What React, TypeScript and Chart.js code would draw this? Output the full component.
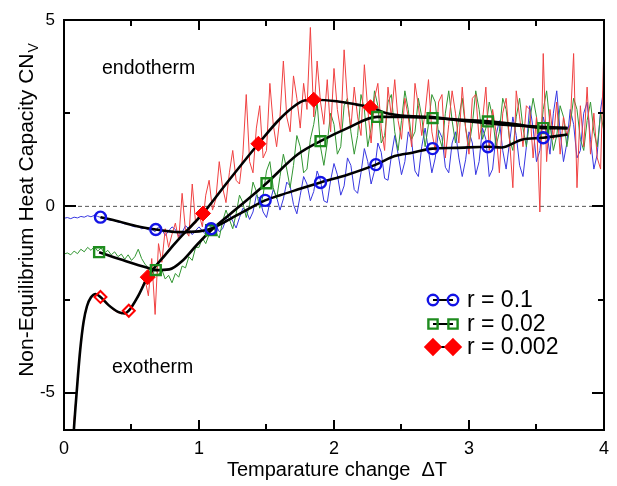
import React, { useEffect, useRef } from "react";
import { Chart, registerables } from "chart.js";

Chart.register(...registerables);

const FONT = '"Liberation Sans", Arial, Helvetica, sans-serif';

// axis ticks
const xTickValues = [0, 1, 2, 3, 4];
const yTickValues = [-5, 0, 5];
const xMinorTicks = [0.5, 1.5, 2.5, 3.5];
const yMinorTicks = [-2.5, 2.5];

// noisy raw traces, sampled every 0.025 in ΔT
const NOISE_STEP = 0.025;
const blueNoiseStart = 0;
const blueNoise = [
  -0.32, -0.30, -0.33, -0.29, -0.31, -0.27, -0.29, -0.25,
  -0.28, -0.24, -0.27, -0.30, -0.33, -0.35, -0.38, -0.37,
  -0.42, -0.44, -0.47, -0.46, -0.52, -0.55, -0.53, -0.60,
  -0.58, -0.63, -0.62, -0.68, -0.55, -0.62, -0.78, -0.66,
  -0.55, -0.62, -0.80, -0.70, -0.52, -0.60, -0.76, -0.65,
  -0.55, -0.66, -0.75, -0.62, -0.45, -0.50, -0.68, -0.60,
  -0.35, -0.22, -0.40, -0.58, -0.30, -0.05, -0.12, -0.35,
  -0.15, 0.30, 0.20, -0.15, -0.30, 0.10, 0.45, 0.25,
  -0.10, 0.20, 0.65, 0.55, 0.05, -0.20, 0.30, 0.80,
  0.60, 0.15, 0.40, 0.95, 0.70, 0.15, 0.10, 0.70,
  1.15, 0.85, 0.30, 0.55, 1.30, 1.10, 0.45, 0.35,
  0.90, 1.55, 1.20, 0.60, 0.95, 1.70, 1.45, 0.75,
  0.70, 1.35, 1.90, 1.40, 0.85, 1.20, 2.00, 1.75,
  0.95, 0.80, 1.60, 2.10, 1.50, 0.90, 1.30, 2.05,
  1.85, 1.05, 0.90, 1.70, 2.00, 1.30, 0.80, 1.25,
  2.00, 1.70, 0.85, 1.20, 2.10, 1.80, 0.80, 1.00,
  1.90, 2.30, 1.50, 1.00, 1.70, 2.40, 1.90, 1.10,
  0.80, 1.60, 2.70, 2.10, 1.20, 1.50, 2.40, 2.00,
  1.40, 2.50, 3.10, 2.00, 1.20, 1.70, 2.60, 2.20,
  1.30, 1.50, 2.50, 2.80, 1.80, 1.00, 1.40, 2.60,
  3.20,
];

const greenNoiseStart = 0;
const greenNoise = [
  -1.28, -1.25, -1.30, -1.20, -1.27, -1.15, -1.22, -1.10,
  -1.18, -1.08, -1.20, -1.12, -1.25, -1.18, -1.30, -1.22,
  -1.35, -1.28, -1.42, -1.30, -1.45, -1.35, -1.15, -1.40,
  -1.55, -1.65, -2.00, -1.60, -1.85, -1.70, -1.95, -1.85,
  -2.05, -1.80, -1.90, -1.60, -1.65, -1.35, -1.45, -1.10,
  -1.10, -0.85, -1.00, -0.75, -0.50, -0.70, -0.85, -0.40,
  -0.10, -0.35, -0.60, -0.20, 0.30, 0.10, -0.30, 0.05,
  0.65, 0.40, -0.05, 0.30, 0.95, 1.20, 0.50, 0.20,
  0.80, 1.40, 1.00, 0.50, 1.10, 1.90, 1.60, 0.90,
  1.00, 1.80, 2.20, 2.80, 1.60, 1.10, 1.70, 2.50,
  2.20, 1.40, 1.60, 2.70, 2.90, 2.00, 1.40, 1.90,
  3.00, 2.60, 1.60, 2.10, 3.10, 2.70, 1.70, 1.90,
  2.80, 3.00, 2.00, 1.50, 2.30, 3.10, 2.60, 1.80,
  2.00, 2.90, 2.40, 1.60, 2.20, 3.00, 2.80, 1.90,
  1.60, 2.50, 3.10, 2.30, 1.70, 2.40, 2.90, 2.10,
  1.60, 2.20, 3.10, 2.60, 1.80, 2.10, 2.80, 2.40,
  1.60, 2.00, 2.90, 2.60, 1.80, 1.50, 2.40, 2.90,
  2.10, 1.60, 2.30, 2.90, 2.40, 1.70, 2.60, 3.10,
  2.20, 1.50, 1.90, 2.70, 2.40, 1.60, 2.20, 2.90,
  2.60, 1.80, 1.50, 2.30, 2.80, 2.00, 1.60, 2.50,
  2.00,
];

const redNoiseStart = 0.05;
const redNoise = [
  -8.0, -5.7, -4.7, -3.65, -3.0, -2.62, -2.44, -2.36,
  -2.38, -2.45, -2.55, -2.64, -2.73, -2.80, -2.85, -2.88,
  -2.86, -2.80, -2.70, -2.55, -2.40, -2.20, -1.95, -2.40,
  -1.40, -2.90, -1.00, -1.50, -0.60, -1.10, -0.75, -0.45,
  -0.90, 0.35, -0.65, -0.80, 0.60, -0.45, -0.20, -0.55,
  0.30, 0.70, -0.10, 0.20, 1.20, 0.50, 0.10, 0.90,
  1.50, 0.70, 0.60, 1.40, 3.00, 1.20, 0.90, 2.10,
  2.70, 1.30, 1.50, 3.30, 2.20, 1.60, 2.40, 3.90,
  2.40, 2.00, 3.50, 2.90, 2.10, 3.30, 2.60, 4.80,
  2.40, 3.90, 2.80, 2.20, 3.40, 2.00, 3.70, 2.60,
  2.00, 4.20, 2.80, 2.10, 3.20, 2.40, 1.90, 3.80,
  2.60, 1.70, 2.90, 3.30, 2.10, 1.50, 3.20, 2.40,
  3.40, 2.30, 1.80, 2.90, 2.40, 1.60, 3.30, 2.70,
  1.90, 2.50, 3.40, 2.00, 1.50, 2.80, 3.00, 1.30,
  2.20, 3.10, 2.50, 1.70, 3.20, 2.10, 1.40, 2.90,
  3.00, 1.80, 2.30, 3.20, 1.50, 2.60, 2.00, 0.90,
  2.50, 2.90, 1.80, 0.50, 3.10, 2.40, 1.60, 2.70,
  2.60, 1.30, 2.40, -0.15, 4.10, 1.20, 2.60, 1.80,
  2.80, 1.40, 2.40, 1.90, 2.20, 4.10, 0.50, 2.70,
  1.60, 3.20, 1.40, 2.50, 1.30, 1.00, 4.40,
];

// smoothed (black) curves
const blueCurve = [
  [0.27, -0.29], [0.4, -0.4], [0.55, -0.54], [0.68, -0.62], [0.85, -0.69],
  [1.0, -0.67], [1.09, -0.6], [1.2, -0.4], [1.35, -0.1], [1.49, 0.16],
  [1.6, 0.3], [1.73, 0.45], [1.9, 0.64], [2.1, 0.85], [2.31, 1.12],
  [2.45, 1.35], [2.58, 1.44], [2.73, 1.55], [2.9, 1.57], [3.14, 1.6],
  [3.24, 1.58], [3.39, 1.79], [3.55, 1.84], [3.73, 1.93],
];
const greenCurve = [
  [0.26, -1.23], [0.46, -1.47], [0.63, -1.66], [0.68, -1.71], [0.78, -1.69],
  [0.88, -1.45], [0.98, -1.05], [1.09, -0.64], [1.3, 0.0], [1.5, 0.62],
  [1.73, 1.39], [1.9, 1.75], [2.1, 2.1], [2.32, 2.4], [2.5, 2.4],
  [2.73, 2.37], [2.95, 2.32], [3.14, 2.28], [3.35, 2.2], [3.55, 2.1],
  [3.73, 2.1],
];
const redCurve = [
  [0.05, -8.0], [0.07, -6.2], [0.085, -5.4], [0.1, -4.7], [0.12, -3.85],
  [0.145, -3.1], [0.17, -2.68], [0.2, -2.44], [0.235, -2.35], [0.27, -2.43],
  [0.33, -2.65], [0.4, -2.83], [0.45, -2.87], [0.48, -2.8], [0.55, -2.4],
  [0.62, -1.9], [0.75, -1.3], [0.87, -0.8], [0.95, -0.5], [1.03, -0.19],
  [1.2, 0.6], [1.44, 1.68], [1.6, 2.35], [1.71, 2.7], [1.78, 2.84],
  [1.85, 2.86], [2.02, 2.82], [2.17, 2.73], [2.27, 2.66], [2.39, 2.5],
  [2.55, 2.42], [2.7, 2.4], [2.95, 2.3], [3.25, 2.19], [3.5, 2.14],
  [3.73, 2.1],
];

// markers on the smoothed curves
const blueMarkers = [
  [0.27, -0.29], [0.68, -0.62], [1.09, -0.6], [1.49, 0.16], [1.9, 0.64],
  [2.31, 1.12], [2.73, 1.55], [3.14, 1.6], [3.55, 1.84],
];
const greenMarkers = [
  [0.26, -1.23], [0.68, -1.71], [1.09, -0.64], [1.5, 0.62], [1.9, 1.75],
  [2.32, 2.4], [2.73, 2.37], [3.14, 2.28], [3.55, 2.1],
];
const redMarkers = [
  [0.27, -2.43], [0.48, -2.8], [0.62, -1.9], [1.03, -0.19], [1.44, 1.68],
  [1.85, 2.86], [2.27, 2.66],
];
const redMarkerFilled = [false, false, true, true, true, true, true];

const zeroLineX = [0, 4];

const legendLabels = ["r = 0.1", "r = 0.02", "r = 0.002"];

const BLUE = "#1414e6";
const GREEN = "#1e8c1e";
const RED = "#ff0000";
const BLUE_NOISE = "rgb(55,55,225)";
const GREEN_NOISE = "rgb(50,150,50)";
const RED_NOISE = "rgb(240,65,65)";

const toPts = (arr: number[][]) => arr.map(([x, y]) => ({ x, y }));
const noisePts = (start: number, vals: number[]) =>
  vals.map((y, i) => ({ x: +(start + i * NOISE_STEP).toFixed(4), y }));

function drawMarker(ctx: CanvasRenderingContext2D, kind: string, cx: number, cy: number, color: string, filled: boolean) {
  ctx.save();
  ctx.strokeStyle = color;
  ctx.fillStyle = color;
  ctx.lineWidth = 2.4;
  ctx.beginPath();
  if (kind === "circle") {
    ctx.arc(cx, cy, 5.2, 0, Math.PI * 2);
  } else if (kind === "rect") {
    ctx.rect(cx - 4.6, cy - 4.6, 9.2, 9.2);
  } else {
    ctx.moveTo(cx, cy - 7.5);
    ctx.lineTo(cx + 7.5, cy);
    ctx.lineTo(cx, cy + 7.5);
    ctx.lineTo(cx - 7.5, cy);
    ctx.closePath();
  }
  if (filled) ctx.fill();
  ctx.stroke();
  ctx.restore();
}

const decorPlugin = {
  id: "decor",
  afterDatasetsDraw(chart: any) {
    const { ctx, chartArea: ca, scales } = chart;
    const xs = scales.x;
    const ys = scales.y;
    ctx.save();
    ctx.strokeStyle = "#000";
    ctx.lineWidth = 2;
    ctx.strokeRect(ca.left, ca.top, ca.right - ca.left, ca.bottom - ca.top);
    const major = 10;
    const minor = 6;
    ctx.beginPath();
    const xt = (v: number, len: number) => {
      const px = Math.round(xs.getPixelForValue(v));
      ctx.moveTo(px, ca.bottom);
      ctx.lineTo(px, ca.bottom - len);
      ctx.moveTo(px, ca.top);
      ctx.lineTo(px, ca.top + len);
    };
    const yt = (v: number, len: number) => {
      const py = Math.round(ys.getPixelForValue(v));
      ctx.moveTo(ca.left, py);
      ctx.lineTo(ca.left + len, py);
      ctx.moveTo(ca.right, py);
      ctx.lineTo(ca.right - len, py);
    };
    xTickValues.forEach((v) => xt(v, major));
    xMinorTicks.forEach((v) => xt(v, minor));
    yTickValues.forEach((v) => yt(v, major + 2));
    yMinorTicks.forEach((v) => yt(v, minor));
    ctx.stroke();
    ctx.restore();
  },
  afterDraw(chart: any) {
    const { ctx } = chart;
    ctx.save();
    ctx.fillStyle = "#000";
    ctx.textAlign = "left";
    ctx.textBaseline = "alphabetic";
    // annotations
    ctx.font = `19.5px ${FONT}`;
    ctx.fillText("endotherm", 102, 74);
    ctx.fillText("exotherm", 112, 373);

    // x title
    ctx.font = `20px ${FONT}`;
    ctx.textAlign = "center";
    ctx.fillText("Temparature change  \u0394T", 337, 476);

    // y title with subscript
    ctx.textAlign = "left";
    const main = "Non-Equilibrium Heat Capacity CN";
    const sub = "V";
    ctx.font = `14px ${FONT}`;
    const wSub = ctx.measureText(sub).width;
    ctx.font = `21px ${FONT}`;
    const wMain = ctx.measureText(main).width;
    const total = wMain + wSub + 1;
    ctx.translate(33, 210);
    ctx.rotate(-Math.PI / 2);
    ctx.fillText(main, -total / 2, 0);
    ctx.font = `14px ${FONT}`;
    ctx.fillText(sub, -total / 2 + wMain + 1, 5);
    ctx.setTransform(1, 0, 0, 1, 0, 0);

    // legend
    const rowsY = [300, 324, 347];
    const kinds = ["circle", "rect", "diamond"];
    const colors = [BLUE, GREEN, RED];
    const x1 = 433;
    const x2 = 453;
    rowsY.forEach((y, i) => {
      ctx.strokeStyle = "#000";
      ctx.lineWidth = 2;
      ctx.beginPath();
      ctx.moveTo(x1, y);
      ctx.lineTo(x2, y);
      ctx.stroke();
      drawMarker(ctx, kinds[i], x1, y, colors[i], kinds[i] === "diamond");
      drawMarker(ctx, kinds[i], x2, y, colors[i], kinds[i] === "diamond");
      ctx.fillStyle = "#000";
      ctx.font = `23px ${FONT}`;
      ctx.textBaseline = "middle";
      ctx.fillText(legendLabels[i], 467, y + 1);
    });
    ctx.restore();
  },
};

export default function App() {
  const ref = useRef<HTMLCanvasElement>(null);
  useEffect(() => {
    if (!ref.current) return;
    const curveStyle = {
      borderColor: "#000",
      borderWidth: 2.6,
      pointRadius: 0,
      cubicInterpolationMode: "monotone" as const,
      fill: false,
    };
    const chart = new Chart(ref.current, {
      type: "line",
      data: {
        datasets: [
          {
            label: "blue markers",
            data: toPts(blueMarkers),
            showLine: false,
            pointStyle: "circle",
            pointRadius: 5.5,
            pointBorderWidth: 2.4,
            pointBorderColor: BLUE,
            pointBackgroundColor: "rgba(0,0,0,0)",
            order: 0,
          },
          {
            label: "green markers",
            data: toPts(greenMarkers),
            showLine: false,
            pointStyle: "rect",
            pointRadius: 7,
            pointBorderWidth: 2.4,
            pointBorderColor: GREEN,
            pointBackgroundColor: "rgba(0,0,0,0)",
            order: 0,
          },
          {
            label: "red markers",
            data: toPts(redMarkers),
            showLine: false,
            pointStyle: "rectRot",
            pointRadius: redMarkerFilled.map((f) => (f ? 7.5 : 6)),
            pointBorderWidth: redMarkerFilled.map((f) => (f ? 1 : 2)),
            pointBorderColor: RED,
            pointBackgroundColor: redMarkerFilled.map((f) => (f ? RED : "rgba(0,0,0,0)")),
            order: 0,
          },
          { label: "blue curve", data: toPts(blueCurve), ...curveStyle, order: 1 },
          { label: "green curve", data: toPts(greenCurve), ...curveStyle, order: 1 },
          { label: "red curve", data: toPts(redCurve), ...curveStyle, order: 1 },
          {
            label: "red raw",
            data: noisePts(redNoiseStart, redNoise),
            borderColor: RED_NOISE,
            borderWidth: 1,
            pointRadius: 0,
            tension: 0,
            order: 2,
          },
          {
            label: "green raw",
            data: noisePts(greenNoiseStart, greenNoise),
            borderColor: GREEN_NOISE,
            borderWidth: 1,
            pointRadius: 0,
            tension: 0,
            order: 3,
          },
          {
            label: "blue raw",
            data: noisePts(blueNoiseStart, blueNoise),
            borderColor: BLUE_NOISE,
            borderWidth: 1,
            pointRadius: 0,
            tension: 0,
            order: 4,
          },
          {
            label: "zero",
            data: zeroLineX.map((x) => ({ x, y: 0 })),
            borderColor: "#555",
            borderWidth: 1,
            borderDash: [4, 3],
            pointRadius: 0,
            order: 5,
          },
        ],
      },
      options: {
        responsive: false,
        animation: false,
        events: [],
        layout: { padding: { left: 0, top: 20, right: 7, bottom: 0 } },
        plugins: {
          legend: { display: false },
          tooltip: { enabled: false },
          title: { display: false },
        },
        scales: {
          x: {
            type: "linear",
            min: 0,
            max: 4,
            grid: { display: false, drawTicks: false },
            border: { display: false },
            afterBuildTicks: (s: any) => {
              s.ticks = xTickValues.map((v) => ({ value: v }));
            },
            afterFit: (s: any) => {
              s.height = 56;
            },
            ticks: {
              color: "#000",
              font: { family: FONT, size: 18 },
              padding: 8,
              maxRotation: 0,
              callback: (v: any) => String(v),
            },
          },
          y: {
            type: "linear",
            min: -6,
            max: 5,
            grid: { display: false, drawTicks: false },
            border: { display: false },
            afterBuildTicks: (s: any) => {
              s.ticks = yTickValues.map((v) => ({ value: v }));
            },
            afterFit: (s: any) => {
              s.width = 64;
            },
            ticks: {
              color: "#000",
              font: { family: FONT, size: 17 },
              padding: 9,
              callback: (v: any) => String(v),
            },
          },
        },
      },
      plugins: [decorPlugin],
    } as any);
    return () => chart.destroy();
  }, []);
  return (
    <div style={{ position: "absolute", left: 0, top: 0, width: 617, height: 486, background: "#fff" }}>
      <canvas ref={ref} width={617} height={486} style={{ display: "block", width: 617, height: 486 }} />
    </div>
  );
}
